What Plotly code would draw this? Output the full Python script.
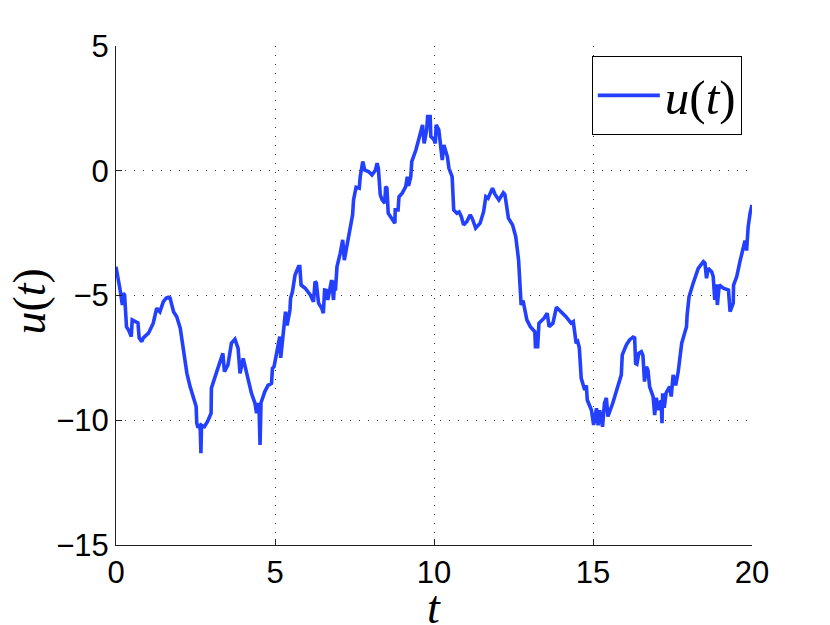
import plotly.graph_objects as go

# sample path u(t)
t_vals = [
    0.00, 0.07, 0.13, 0.20, 0.23, 0.27, 0.31, 0.33, 0.40, 0.44, 0.48, 0.51, 0.58, 0.65, 0.69,
    0.73, 0.77, 0.81, 0.86, 0.95, 1.02, 1.10, 1.17, 1.28, 1.33, 1.38, 1.49, 1.58, 1.65, 1.70,
    1.81, 1.91, 2.02, 2.12, 2.23, 2.33, 2.44, 2.52, 2.54, 2.58, 2.62, 2.65, 2.67, 2.69, 2.78,
    2.88, 2.99, 3.00, 3.15, 3.25, 3.36, 3.41, 3.52, 3.63, 3.74, 3.84, 3.90, 4.00, 4.03, 4.15,
    4.26, 4.37, 4.42, 4.45, 4.50, 4.53, 4.56, 4.68, 4.78, 4.89, 4.92, 4.97, 5.04, 5.10, 5.15,
    5.18, 5.24, 5.26, 5.33, 5.38, 5.47, 5.49, 5.55, 5.63, 5.74, 5.78, 5.82, 5.95, 6.11, 6.21,
    6.26, 6.30, 6.37, 6.47, 6.50, 6.52, 6.56, 6.62, 6.66, 6.73, 6.78, 6.84, 6.88, 6.90, 6.95,
    7.05, 7.13, 7.18, 7.26, 7.37, 7.44, 7.47, 7.55, 7.65, 7.68, 7.76, 7.82, 7.95, 8.05, 8.16,
    8.21, 8.25, 8.31, 8.37, 8.45, 8.48, 8.52, 8.56, 8.63, 8.77, 8.78, 8.87, 8.90, 9.00, 9.11,
    9.16, 9.20, 9.27, 9.30, 9.43, 9.53, 9.64, 9.69, 9.77, 9.80, 9.88, 9.90, 10.00, 10.04, 10.07,
    10.15, 10.21, 10.26, 10.31, 10.42, 10.47, 10.57, 10.62, 10.72, 10.79, 10.86, 10.93, 11.03, 11.14, 11.20,
    11.31, 11.45, 11.56, 11.63, 11.70, 11.84, 11.92, 12.04, 12.18, 12.23, 12.34, 12.47, 12.57, 12.66, 12.74,
    12.80, 12.92, 13.03, 13.17, 13.19, 13.26, 13.30, 13.46, 13.56, 13.62, 13.74, 13.85, 13.95, 14.15, 14.31,
    14.38, 14.47, 14.52, 14.57, 14.63, 14.74, 14.79, 14.82, 14.95, 15.02, 15.11, 15.16, 15.21, 15.30, 15.36,
    15.42, 15.47, 15.62, 15.78, 15.89, 15.92, 16.05, 16.15, 16.26, 16.31, 16.34, 16.38, 16.44, 16.52, 16.57,
    16.62, 16.68, 16.73, 16.78, 16.89, 16.94, 16.99, 17.07, 17.14, 17.17, 17.19, 17.24, 17.30, 17.41, 17.46,
    17.52, 17.60, 17.68, 17.79, 17.89, 17.94, 17.96, 18.02, 18.15, 18.31, 18.47, 18.52, 18.57, 18.62, 18.73,
    18.78, 18.83, 18.88, 18.91, 18.97, 19.10, 19.26, 19.31, 19.36, 19.41, 19.42, 19.52, 19.62, 19.73, 19.78,
    19.83, 19.88, 19.94, 20.00,
]
u_vals = [
    -3.85, -4.30, -4.78, -5.38, -4.91, -4.98, -5.60, -6.25, -6.40, -6.51, -6.65, -5.98, -6.02, -6.05, -6.10,
    -6.71, -6.80, -6.85, -6.70, -6.60, -6.51, -6.30, -6.11, -5.51, -5.60, -5.65, -5.25, -5.10, -5.07, -5.10,
    -5.65, -5.85, -6.31, -7.18, -8.12, -8.65, -9.19, -9.45, -10.12, -10.30, -10.15, -10.40, -11.32, -10.20, -10.26,
    -10.05, -9.72, -8.72, -8.12, -7.78, -7.32, -8.05, -7.78, -6.91, -6.75, -7.12, -8.12, -7.52, -7.70, -8.30,
    -8.92, -9.32, -9.72, -9.30, -9.60, -10.99, -9.30, -8.85, -8.60, -8.52, -7.92, -7.85, -7.32, -7.00, -6.65,
    -7.50, -6.78, -6.25, -5.65, -6.20, -5.58, -5.11, -4.84, -4.18, -3.84, -3.84, -4.58, -4.71, -4.98, -5.25,
    -4.44, -4.50, -5.31, -5.51, -5.60, -5.71, -4.78, -4.80, -5.18, -4.78, -4.38, -5.18, -4.40, -4.80, -3.84,
    -3.31, -2.77, -3.58, -3.04, -2.24, -1.77, -1.17, -0.66, -0.70, -0.24, 0.37, 0.03, -0.04, -0.17, 0.03,
    0.30, 0.10, -0.97, -1.17, -1.30, -0.64, -0.70, -1.70, -1.84, -2.10, -1.57, -1.57, -1.04, -0.90, -0.64,
    -0.24, -0.60, -0.24, 0.37, 0.83, 1.30, 1.84, 1.10, 1.64, 2.17, 2.17, 1.37, 1.24, 1.10, 1.84,
    1.64, 0.83, 0.43, 1.03, 0.57, 0.10, -0.24, -1.57, -1.70, -1.65, -1.84, -2.17, -2.04, -1.77, -1.90,
    -2.30, -2.10, -1.64, -1.04, -1.10, -0.70, -0.95, -1.17, -0.88, -0.95, -1.90, -2.17, -2.64, -3.58, -5.38,
    -5.20, -5.98, -6.25, -6.45, -7.05, -7.05, -6.11, -5.91, -5.71, -6.25, -6.11, -5.47, -5.60, -5.85, -6.11,
    -6.05, -6.91, -6.85, -7.10, -8.32, -8.79, -8.60, -9.19, -9.59, -10.19, -9.52, -10.20, -9.60, -10.26, -9.32,
    -9.10, -9.85, -9.32, -8.65, -8.18, -7.38, -6.98, -6.78, -6.67, -6.70, -7.72, -7.75, -7.32, -7.25, -7.40,
    -8.45, -7.85, -8.00, -8.65, -9.05, -9.79, -9.10, -9.59, -9.20, -10.12, -8.92, -9.50, -8.90, -8.65, -9.05,
    -8.18, -8.60, -8.05, -6.91, -6.51, -6.25, -5.78, -5.05, -4.51, -3.91, -3.64, -3.70, -4.31, -3.91, -4.05,
    -4.24, -5.18, -4.55, -5.38, -4.58, -4.71, -4.78, -5.65, -5.50, -5.31, -4.58, -4.24, -3.64, -3.04, -2.80,
    -3.20, -2.24, -1.70, -1.37,
]

x_ticks = [0, 5, 10, 15, 20]
y_ticks = [-15, -10, -5, 0, 5]

serif = "Liberation Serif"
sans = "Liberation Sans, Arial, sans-serif"

fig = go.Figure()
fig.add_trace(go.Scatter(x=t_vals, y=u_vals, mode="lines", name="<i>u</i>(<i>t</i>)",
                         line=dict(color="#2340ff", width=3.6)))

grid = dict(showgrid=True, gridcolor="#333", gridwidth=1, griddash="1px,8px",
            zeroline=False, showline=True, linecolor="#222", linewidth=1,
            ticks="inside", ticklen=6, tickcolor="#222", mirror=False, automargin=False,
            tickfont=dict(family=sans, size=31, color="black"))

fig.update_layout(
    width=830, height=625,
    margin=dict(l=116, r=78, t=46, b=80),
    plot_bgcolor="white", paper_bgcolor="white",
    showlegend=True,
    legend=dict(x=0.984, y=0.98, xanchor="right", yanchor="top", itemwidth=62,
                bgcolor="white", bordercolor="black", borderwidth=1,
                font=dict(family=serif, size=49, color="black")),
    xaxis=dict(range=[0, 20], tickvals=x_ticks, **grid),
    yaxis=dict(range=[-15, 5], tickvals=y_ticks, **grid),
)

# axis titles placed by hand (title standoff is ignored without automargin)
fig.add_annotation(text="<i>t</i>", xref="paper", yref="paper", x=0.5, y=-0.125,
                   xanchor="center", yanchor="middle", showarrow=False,
                   font=dict(family=serif, size=46, color="black"))
fig.add_annotation(text="<i>u</i>(<i>t</i>)", xref="paper", yref="paper", x=-0.136, y=0.487,
                   xanchor="center", yanchor="middle", textangle=-90, showarrow=False,
                   font=dict(family=serif, size=46, color="black"))

# drop the page's default body margin so the figure sits at the window's corner
fig.write_html("out.html", config={"displayModeBar": False},
               post_script="document.body.style.margin = '0';")
